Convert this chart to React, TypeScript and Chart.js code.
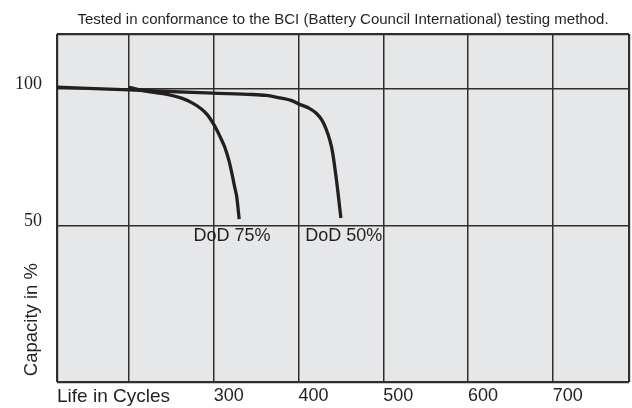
import React, { useEffect, useRef } from 'react';
import { Chart, registerables } from 'chart.js';

Chart.register(...registerables);

const chartTitle = 'Tested in conformance to the BCI (Battery Council International) testing method.';
const xAxisLabel = 'Life in Cycles';
const yAxisLabel = 'Capacity in %';

const xMin = 115;
const xMax = 790;
const yMin = -7.2;
const yMax = 119.8;

const xTickValues = [200, 300, 400, 500, 600, 700];
const xTickLabels = ['', '300', '400', '500', '600', '700'];
const yTickValues = [50, 100];
const yTickLabels = ['50', '100'];

const seriesNames = ['DoD 75%', 'DoD 50%'];
const cycles75 = [200, 223, 245, 262, 275, 283, 292, 301, 308, 313, 318, 321, 325, 327, 330];
const capacity75 = [100.3, 98.8, 97.8, 96.4, 94.6, 93.0, 90.5, 86.3, 82.0, 78.5, 73.5, 69.5, 63.5, 60.6, 52.3];
const cycles50 = [115, 200, 283, 340, 362, 378, 392, 401, 412, 421, 428, 433, 437, 440, 445, 450];
const capacity50 = [100.4, 99.4, 98.4, 97.8, 97.4, 96.5, 95.5, 94.2, 92.8, 90.9, 88.2, 84.8, 81.0, 77.0, 66.0, 52.7];

const labelCycles = [276, 408];
const labelCapacity = [46, 46];

const INK = '#231f20';
const GRID = '#2e2e2e';
const PLOT_BG = '#e6e7e8';
const SANS = '"Liberation Sans", Arial, sans-serif';
const SERIF = '"Liberation Serif", "Times New Roman", serif';

export default function App() {
  const canvasRef = useRef<HTMLCanvasElement | null>(null);

  useEffect(() => {
    const canvas = canvasRef.current;
    if (!canvas) return;

    const bgPlugin = {
      id: 'plotBg',
      beforeDraw(chart: any) {
        const { ctx, chartArea } = chart;
        ctx.save();
        ctx.fillStyle = PLOT_BG;
        ctx.fillRect(chartArea.left, chartArea.top, chartArea.right - chartArea.left, chartArea.bottom - chartArea.top);
        ctx.restore();
      },
    };

    const labelPlugin = {
      id: 'seriesLabels',
      afterDatasetsDraw(chart: any) {
        const { ctx, scales, chartArea } = chart;
        ctx.save();
        ctx.font = '18px ' + SANS;
        ctx.fillStyle = INK;
        ctx.textAlign = 'left';
        ctx.textBaseline = 'middle';
        seriesNames.forEach((name, i) => {
          const x = scales.x.getPixelForValue(labelCycles[i]);
          const y = scales.y.getPixelForValue(labelCapacity[i]);
          ctx.fillText(name, x, y);
        });
        // y-axis title, rotated, starting near the bottom of the plot
        ctx.font = '18.5px ' + SANS;
        ctx.translate(32, chartArea.bottom - 6);
        ctx.rotate(-Math.PI / 2);
        ctx.fillText(yAxisLabel, 0, 0);
        ctx.restore();
      },
    };

    const isEdgeX = (v: number) => v === xMin || v === xMax;
    const isEdgeY = (v: number) => v === yMin || v === yMax;

    const chart = new Chart(canvas, {
      type: 'line',
      data: {
        datasets: [
          {
            label: seriesNames[0],
            data: cycles75.map((c, i) => ({ x: c, y: capacity75[i] })),
            borderColor: INK,
            borderWidth: 3.3,
            pointRadius: 0,
            fill: false,
            cubicInterpolationMode: 'monotone',
          },
          {
            label: seriesNames[1],
            data: cycles50.map((c, i) => ({ x: c, y: capacity50[i] })),
            borderColor: INK,
            borderWidth: 3.3,
            pointRadius: 0,
            fill: false,
            cubicInterpolationMode: 'monotone',
          },
        ],
      },
      options: {
        animation: false,
        responsive: true,
        maintainAspectRatio: false,
        layout: { padding: { left: 0, right: 2, top: 0, bottom: 0 } },
        plugins: {
          legend: { display: false },
          tooltip: { enabled: false },
          title: {
            display: true,
            text: chartTitle,
            fullSize: false,
            color: INK,
            font: { family: SANS, size: 15, weight: 'normal', lineHeight: 1.2 },
            padding: { top: 11, bottom: 5 },
          },
        },
        scales: {
          x: {
            type: 'linear',
            min: xMin,
            max: xMax,
            afterBuildTicks: (scale: any) => {
              scale.ticks = [xMin, ...xTickValues, xMax].map((v) => ({ value: v }));
            },
            afterFit: (scale: any) => {
              scale.height = 25;
            },
            ticks: {
              autoSkip: false,
              maxRotation: 0,
              minRotation: 0,
              align: 'start',
              padding: 3,
              color: INK,
              font: (ctx: any) => ({
                family: SANS,
                size: ctx.tick && ctx.tick.value === xMin ? 19 : 18,
              }),
              callback: (value: any) => {
                if (value === xMin) return xAxisLabel;
                const idx = xTickValues.indexOf(value);
                return idx >= 0 ? xTickLabels[idx] : '';
              },
            },
            grid: {
              drawTicks: false,
              color: GRID,
              lineWidth: (ctx: any) => (ctx.tick && isEdgeX(ctx.tick.value) ? 2.2 : 1.5),
            },
            border: { display: false },
          },
          y: {
            type: 'linear',
            min: yMin,
            max: yMax,
            afterBuildTicks: (scale: any) => {
              scale.ticks = [yMin, ...yTickValues, yMax].map((v) => ({ value: v }));
            },
            afterFit: (scale: any) => {
              scale.width = 57;
            },
            ticks: {
              autoSkip: false,
              padding: 15,
              labelOffset: -4,
              color: INK,
              font: { family: SERIF, size: 18 },
              callback: (value: any) => {
                const idx = yTickValues.indexOf(value);
                return idx >= 0 ? yTickLabels[idx] : '';
              },
            },
            grid: {
              drawTicks: false,
              color: GRID,
              lineWidth: (ctx: any) => (ctx.tick && isEdgeY(ctx.tick.value) ? 2.2 : 1.5),
            },
            border: { display: false },
          },
        },
      },
      plugins: [bgPlugin, labelPlugin],
    } as any);

    return () => {
      chart.destroy();
    };
  }, []);

  return (
    <div style={{ position: 'fixed', left: 0, top: 0, width: 632, height: 408, background: '#ffffff' }}>
      <canvas ref={canvasRef} />
    </div>
  );
}
